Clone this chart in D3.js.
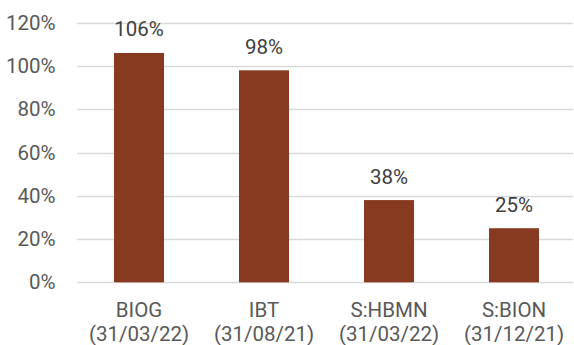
<!DOCTYPE html>
<html>
<head>
<meta charset="utf-8">
<script src="https://cdn.jsdelivr.net/npm/d3@7"></script>
<style>
  html, body { margin: 0; padding: 0; background: #fff; }
  svg { display: block; }
  text { font-family: Roboto, "Noto Sans", sans-serif; }
</style>
</head>
<body>
<svg id="chart" width="574" height="345"></svg>
<script>
// Category labels (two lines: ticker, date)
const tickers = ["BIOG", "IBT", "S:HBMN", "S:BION"];
const dates = ["(31/03/22)", "(31/08/21)", "(31/03/22)", "(31/12/21)"];
// Values in percent
const values = [106, 98, 38, 25];
// Y-axis ticks
const yTicks = [0, 20, 40, 60, 80, 100, 120];

const svg = d3.select("#chart");
const plotLeft = 76.5, plotRight = 576.5, plotTop = 22.7, plotBottom = 282.3;
const fontSize = 20.5;

const x = d3.scaleBand()
  .domain(tickers)
  .range([plotLeft, plotRight])
  .paddingInner(0.6)
  .paddingOuter(0.3);

const y = d3.scaleLinear()
  .domain([0, 120])
  .range([plotBottom, plotTop]);

// Gridlines
svg.append("g")
  .selectAll("line")
  .data(yTicks)
  .join("line")
  .attr("x1", plotLeft + 0.5)
  .attr("x2", 573)
  .attr("y1", d => Math.round(y(d)) + 0.5)
  .attr("y2", d => Math.round(y(d)) + 0.5)
  .attr("stroke", "#d9d9d9")
  .attr("stroke-width", 1.3);

// Y-axis labels
svg.append("g")
  .selectAll("text")
  .data(yTicks)
  .join("text")
  .attr("x", 55.5)
  .attr("y", d => y(d))
  .attr("dy", "0.35em")
  .attr("text-anchor", "end")
  .attr("font-size", fontSize)
  .attr("fill", "#595959")
  .text(d => d + "%");

// Bars
svg.append("g")
  .selectAll("rect")
  .data(values)
  .join("rect")
  .attr("x", (d, i) => x(tickers[i]))
  .attr("width", x.bandwidth())
  .attr("y", d => y(d))
  .attr("height", d => plotBottom - y(d))
  .attr("fill", "#873a1f");

// Value labels
svg.append("g")
  .selectAll("text")
  .data(values)
  .join("text")
  .attr("x", (d, i) => x(tickers[i]) + x.bandwidth() / 2)
  .attr("y", d => y(d) - 16.5)
  .attr("text-anchor", "middle")
  .attr("font-size", fontSize)
  .attr("fill", "#404040")
  .text(d => d + "%");

// Category labels
const cat = svg.append("g")
  .selectAll("text")
  .data(tickers)
  .join("text")
  .attr("x", d => x(d) + x.bandwidth() / 2)
  .attr("y", 316.5)
  .attr("text-anchor", "middle")
  .attr("font-size", fontSize)
  .attr("fill", "#595959");
cat.append("tspan").text(d => d);
cat.append("tspan")
  .attr("x", d => x(d) + x.bandwidth() / 2)
  .attr("dy", 24.5)
  .text((d, i) => dates[i]);
</script>
</body>
</html>
